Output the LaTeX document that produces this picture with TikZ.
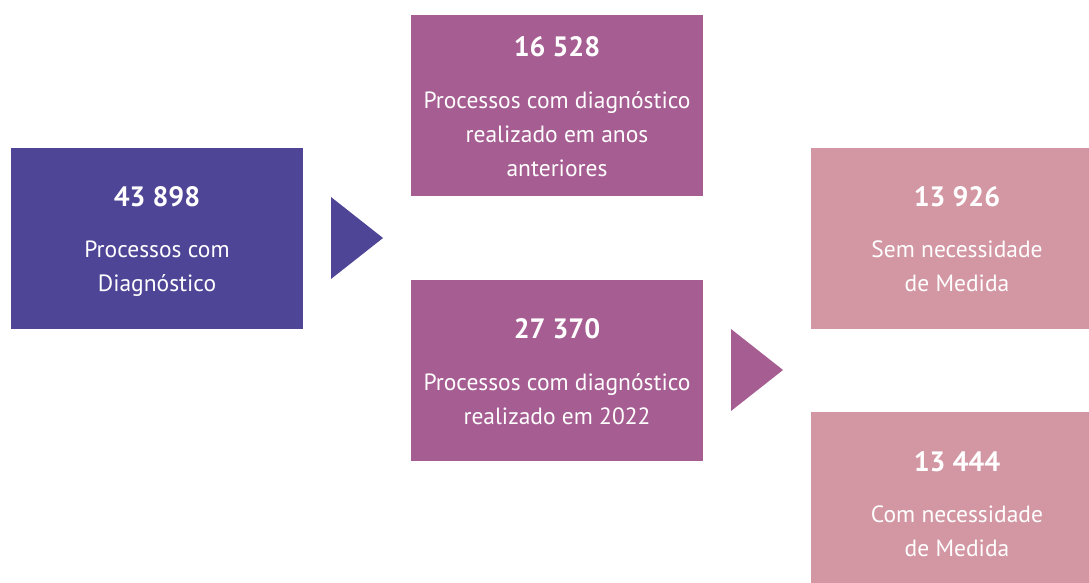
\documentclass[tikz,border=0pt]{standalone}
\usepackage{fontspec}
\setmainfont{PT Sans}
\definecolor{cA}{RGB}{78,69,151}
\definecolor{cB}{RGB}{166,94,146}
\definecolor{cC}{RGB}{211,151,163}
\begin{document}
\begin{tikzpicture}[x=1pt,y=-1pt,
  box/.style={rectangle,inner sep=0pt,anchor=north west,draw=none},
  num/.style={text=white,font=\fontsize{28}{30}\selectfont\bfseries},
  lbl/.style={text=white,align=center,font=\fontsize{23.5}{34}\selectfont}]
\useasboundingbox (0,0) rectangle (1089,583);
% boxes
\node[box,fill=cA,minimum width=292pt,minimum height=181pt] (box1) at (11,148) {};
\node[box,fill=cB,minimum width=292pt,minimum height=181pt] (box2) at (411,15) {};
\node[box,fill=cB,minimum width=292pt,minimum height=181pt] (box3) at (411,280) {};
\node[box,fill=cC,minimum width=278pt,minimum height=181pt] (box4) at (811,148) {};
\node[box,fill=cC,minimum width=278pt,minimum height=171pt] (box5) at (811,412) {};
% triangles
\fill[cA] (331,197) -- (383,238) -- (331,279) -- cycle;
\fill[cB] (731,329) -- (783,370) -- (731,411) -- cycle;
% texts
\node[num] (n1) at (157,197) {43 898};
\node[lbl,anchor=north] (l1) at (157,237) {Processos com\\Diagnóstico};
\node[num] (n2) at (557,47) {16 528};
\node[lbl,anchor=north] (l2) at (557,88) {Processos com diagnóstico\\realizado em anos\\anteriores};
\node[num] (n3) at (557,329) {27 370};
\node[lbl,anchor=north] (l3) at (557,370) {Processos com diagnóstico\\realizado em 2022};
\node[num] (n4) at (957,197) {13 926};
\node[lbl,anchor=north] (l4) at (957,237) {Sem necessidade\\de Medida};
\node[num] (n5) at (957,462) {13 444};
\node[lbl,anchor=north] (l5) at (957,502) {Com necessidade\\de Medida};
\end{tikzpicture}
\end{document}
